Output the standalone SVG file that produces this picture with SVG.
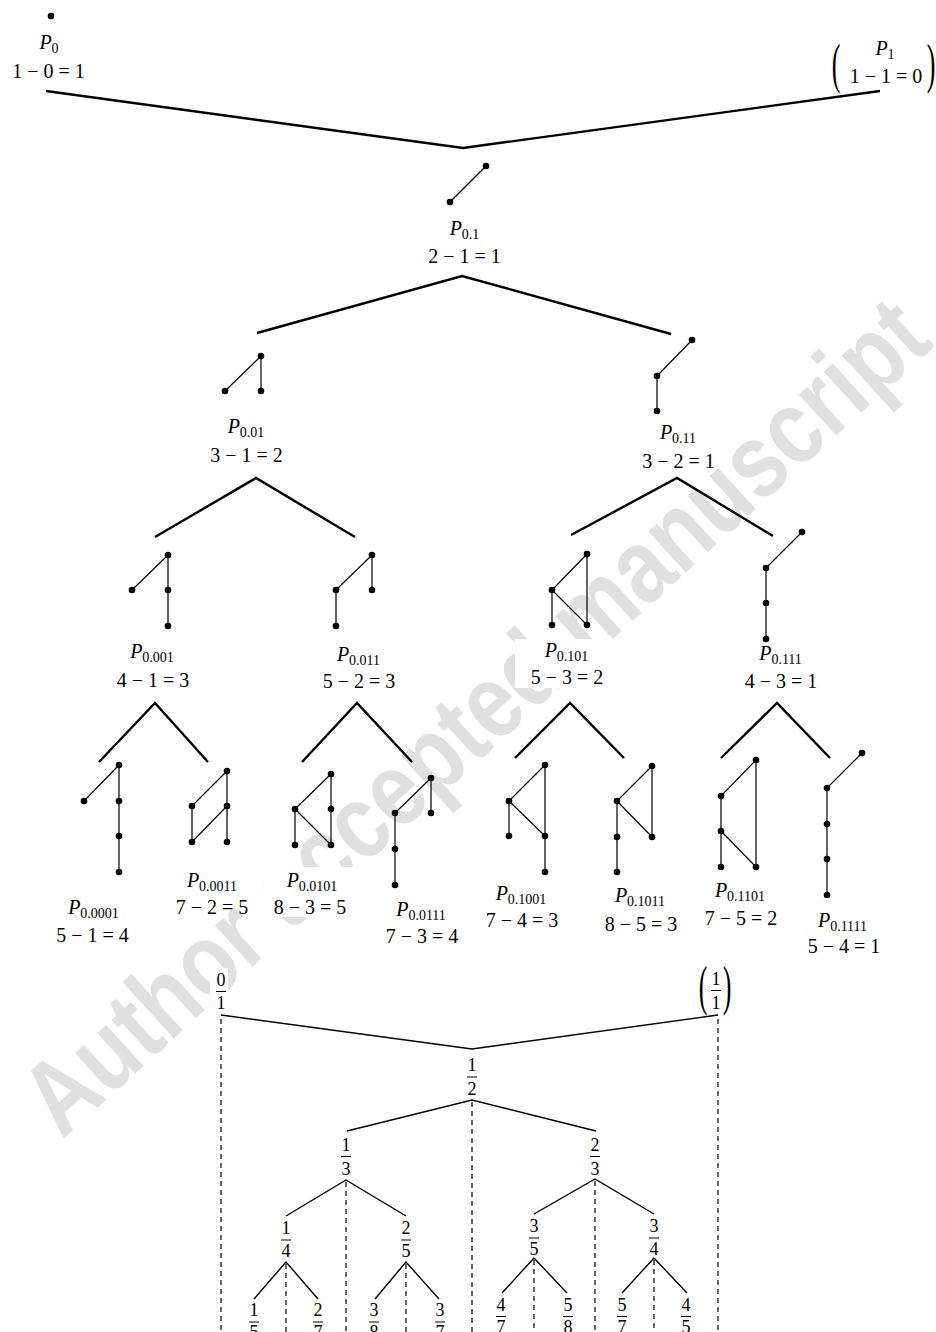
<svg xmlns="http://www.w3.org/2000/svg" width="936" height="1332" viewBox="0 0 936 1332">
<style>
.t{font-family:"Liberation Serif","Times New Roman",serif;font-size:20px;text-anchor:middle;fill:#000}
.P{font-style:italic}
.s{font-size:14px;font-style:normal}
.f{font-family:"Liberation Serif","Times New Roman",serif;font-size:18px;text-anchor:middle;fill:#000}
.e{stroke:#000;stroke-width:1.2;fill:none}
.v{stroke:#000;stroke-width:2.4;fill:none;stroke-linejoin:miter}
.w{stroke:#000;stroke-width:1.4;fill:none}
.dash{stroke:#000;stroke-width:1.2;stroke-dasharray:5 4;fill:none}
.bar{stroke:#000;stroke-width:1}
.bg{fill:#fff}
.wm{font-family:"Liberation Sans",Arial,sans-serif;font-weight:bold;font-size:105px;fill:#e0e0e0}
</style>
<rect width="936" height="1332" fill="#fff"/>
<g id="watermark">
<text class="wm" transform="translate(62,1140) rotate(-42.3)" textLength="1181" lengthAdjust="spacingAndGlyphs">Author accepted manuscript</text>
</g>
<g id="connectors">
<polyline class="v" points="46,91 463,148 880,91"/>
<polyline class="v" points="257,333 462,276 671,334"/>
<polyline class="v" points="155,537 256,478 355,537"/>
<polyline class="v" points="571,535 677,478 773,536"/>
<polyline class="v" points="99,762 155,703 208,762"/>
<polyline class="v" points="302,762 357,703 412,762"/>
<polyline class="v" points="515,758 570,703 624,758"/>
<polyline class="v" points="721,758 777,703 830,758"/>
</g>
<g id="P0">
<circle cx="51" cy="16" r="3.3"/>
<text class="t" x="49" y="49"><tspan class="P">P</tspan><tspan class="s" dy="3.5">0</tspan></text>
<text class="t" x="48.5" y="78">1 − 0 = 1</text>
</g>
<g id="P1">
<text class="t" x="885" y="55"><tspan class="P">P</tspan><tspan class="s" dy="3.5">1</tspan></text>
<text class="t" x="886" y="83">1 − 1 = 0</text>
<text class="t" style="font-size:26px" transform="translate(836,82) scale(1,2.1)">(</text>
<text class="t" style="font-size:26px" transform="translate(931,82) scale(1,2.1)">)</text>
</g>
<g id="P0.1">
<line class="e" x1="486" y1="166" x2="450" y2="202"/>
<circle cx="486" cy="166" r="3.3"/><circle cx="450" cy="202" r="3.3"/>
<text class="t" x="464.5" y="235"><tspan class="P">P</tspan><tspan class="s" dy="3.5">0.1</tspan></text>
<text class="t" x="464.5" y="263">2 − 1 = 1</text>
</g>
<g id="P0.01">
<path class="e" d="M261,356 L225,391 M261,356 L261,391"/>
<circle cx="261" cy="356" r="3.3"/><circle cx="225" cy="391" r="3.3"/><circle cx="261" cy="391" r="3.3"/>
<text class="t" x="246" y="433"><tspan class="P">P</tspan><tspan class="s" dy="3.5">0.01</tspan></text>
<text class="t" x="246.5" y="462">3 − 1 = 2</text>
</g>
<g id="P0.11">
<path class="e" d="M692,340 L657,376 L657,411"/>
<circle cx="692" cy="340" r="3.3"/><circle cx="657" cy="376" r="3.3"/><circle cx="657" cy="411" r="3.3"/>
<text class="t" x="678" y="439"><tspan class="P">P</tspan><tspan class="s" dy="3.5">0.11</tspan></text>
<text class="t" x="678.5" y="468">3 − 2 = 1</text>
</g>
<g id="P0.001">
<path class="e" d="M168,555 L132,590 M168,555 L168,626"/>
<circle cx="168" cy="555" r="3.3"/><circle cx="132" cy="590" r="3.3"/><circle cx="168" cy="590" r="3.3"/><circle cx="168" cy="626" r="3.3"/>
<text class="t" x="152" y="658"><tspan class="P">P</tspan><tspan class="s" dy="3.5">0.001</tspan></text>
<text class="t" x="153" y="687">4 − 1 = 3</text>
</g>
<g id="P0.011">
<path class="e" d="M372,555 L336,590 L336,626 M372,555 L372,590"/>
<circle cx="372" cy="555" r="3.3"/><circle cx="336" cy="590" r="3.3"/><circle cx="372" cy="590" r="3.3"/><circle cx="336" cy="626" r="3.3"/>
<text class="t" x="358.5" y="661"><tspan class="P">P</tspan><tspan class="s" dy="3.5">0.011</tspan></text>
<text class="t" x="359" y="688">5 − 2 = 3</text>
</g>
<g id="P0.101">
<rect class="bg" x="515" y="639" width="99" height="49"/>
<path class="e" d="M587,554 L552,590 L552,625 M587,554 L587,625 M552,590 L587,625"/>
<circle cx="587" cy="554" r="3.3"/><circle cx="552" cy="590" r="3.3"/><circle cx="552" cy="625" r="3.3"/><circle cx="587" cy="625" r="3.3"/>
<text class="t" x="566.5" y="657"><tspan class="P">P</tspan><tspan class="s" dy="3.5">0.101</tspan></text>
<text class="t" x="567" y="684">5 − 3 = 2</text>
</g>
<g id="P0.111">
<path class="e" d="M802,532 L766,568 L766,639"/>
<circle cx="802" cy="532" r="3.3"/><circle cx="766" cy="568" r="3.3"/><circle cx="766" cy="603" r="3.3"/><circle cx="766" cy="639" r="3.3"/>
<text class="t" x="780.5" y="660"><tspan class="P">P</tspan><tspan class="s" dy="3.5">0.111</tspan></text>
<text class="t" x="781" y="688">4 − 3 = 1</text>
</g>
<g id="P0.0001">
<path class="e" d="M119,765 L84,801 M119,765 L119,872"/>
<circle cx="119" cy="765" r="3.3"/><circle cx="84" cy="801" r="3.3"/><circle cx="119" cy="801" r="3.3"/><circle cx="119" cy="836" r="3.3"/><circle cx="119" cy="872" r="3.3"/>
<text class="t" x="93.5" y="914"><tspan class="P">P</tspan><tspan class="s" dy="3.5">0.0001</tspan></text>
<text class="t" x="92.5" y="942">5 − 1 = 4</text>
</g>
<g id="P0.0011">
<path class="e" d="M227,771 L192,806 L192,842 L227,806 M227,771 L227,842"/>
<circle cx="227" cy="771" r="3.3"/><circle cx="192" cy="806" r="3.3"/><circle cx="227" cy="806" r="3.3"/><circle cx="192" cy="842" r="3.3"/><circle cx="227" cy="842" r="3.3"/>
<text class="t" x="212" y="887"><tspan class="P">P</tspan><tspan class="s" dy="3.5">0.0011</tspan></text>
<text class="t" x="212" y="914">7 − 2 = 5</text>
</g>
<g id="P0.0101">
<rect class="bg" x="264" y="867" width="94" height="50"/>
<path class="e" d="M331,774 L295,809 L295,845 M331,774 L331,845 M295,809 L331,845"/>
<circle cx="331" cy="774" r="3.3"/><circle cx="295" cy="809" r="3.3"/><circle cx="331" cy="809" r="3.3"/><circle cx="295" cy="845" r="3.3"/><circle cx="331" cy="845" r="3.3"/>
<text class="t" x="312" y="887"><tspan class="P">P</tspan><tspan class="s" dy="3.5">0.0101</tspan></text>
<text class="t" x="310" y="914">8 − 3 = 5</text>
</g>
<g id="P0.0111">
<path class="e" d="M431,778 L395,813 L395,885 M431,778 L431,813"/>
<circle cx="431" cy="778" r="3.3"/><circle cx="395" cy="813" r="3.3"/><circle cx="431" cy="813" r="3.3"/><circle cx="395" cy="849" r="3.3"/><circle cx="395" cy="885" r="3.3"/>
<text class="t" x="421" y="916"><tspan class="P">P</tspan><tspan class="s" dy="3.5">0.0111</tspan></text>
<text class="t" x="422" y="943">7 − 3 = 4</text>
</g>
<g id="P0.1001">
<path class="e" d="M545,765 L509,801 L509,836 M545,765 L545,872 M509,801 L545,836"/>
<circle cx="545" cy="765" r="3.3"/><circle cx="509" cy="801" r="3.3"/><circle cx="545" cy="836" r="3.3"/><circle cx="509" cy="836" r="3.3"/><circle cx="545" cy="872" r="3.3"/>
<text class="t" x="521" y="900"><tspan class="P">P</tspan><tspan class="s" dy="3.5">0.1001</tspan></text>
<text class="t" x="522" y="927">7 − 4 = 3</text>
</g>
<g id="P0.1011">
<path class="e" d="M652,766 L617,801 L617,872 M652,766 L652,837 M617,801 L652,837"/>
<circle cx="652" cy="766" r="3.3"/><circle cx="617" cy="801" r="3.3"/><circle cx="652" cy="837" r="3.3"/><circle cx="617" cy="837" r="3.3"/><circle cx="617" cy="872" r="3.3"/>
<text class="t" x="640" y="902"><tspan class="P">P</tspan><tspan class="s" dy="3.5">0.1011</tspan></text>
<text class="t" x="641" y="931">8 − 5 = 3</text>
</g>
<g id="P0.1101">
<path class="e" d="M756,760 L721,796 L721,867 M756,760 L756,867 M721,831 L756,867"/>
<circle cx="756" cy="760" r="3.3"/><circle cx="721" cy="796" r="3.3"/><circle cx="721" cy="831" r="3.3"/><circle cx="721" cy="867" r="3.3"/><circle cx="756" cy="867" r="3.3"/>
<text class="t" x="740" y="897"><tspan class="P">P</tspan><tspan class="s" dy="3.5">0.1101</tspan></text>
<text class="t" x="741" y="925">7 − 5 = 2</text>
</g>
<g id="P0.1111">
<path class="e" d="M862,753 L827,788 L827,895"/>
<circle cx="862" cy="753" r="3.3"/><circle cx="827" cy="788" r="3.3"/><circle cx="827" cy="824" r="3.3"/><circle cx="827" cy="859" r="3.3"/><circle cx="827" cy="895" r="3.3"/>
<text class="t" x="842.5" y="927"><tspan class="P">P</tspan><tspan class="s" dy="3.5">0.1111</tspan></text>
<text class="t" x="844" y="953">5 − 4 = 1</text>
</g>
<g id="fraction-connectors">
<polyline class="w" points="221,1015 472,1049 718,1015"/>
<polyline class="w" points="347,1131 472,1100 596,1131"/>
<polyline class="w" points="286,1216 346,1180 406,1216"/>
<polyline class="w" points="534,1214 595,1179 654,1214"/>
<polyline class="w" points="254,1299 286,1262 318,1299"/>
<polyline class="w" points="375,1299 406,1262 439,1299"/>
<polyline class="w" points="502,1293 534,1258 567,1293"/>
<polyline class="w" points="622,1293 654,1258 687,1293"/>
<line class="dash" x1="221" y1="1019" x2="221" y2="1332"/>
<line class="dash" x1="718" y1="1019" x2="718" y2="1332"/>
<line class="dash" x1="472" y1="1102" x2="472" y2="1332"/>
<line class="dash" x1="346" y1="1182" x2="346" y2="1332"/>
<line class="dash" x1="595" y1="1181" x2="595" y2="1332"/>
<line class="dash" x1="286" y1="1264" x2="286" y2="1332"/>
<line class="dash" x1="406" y1="1264" x2="406" y2="1332"/>
<line class="dash" x1="534" y1="1260" x2="534" y2="1332"/>
<line class="dash" x1="654" y1="1260" x2="654" y2="1332"/>
</g>
<g id="f0_1"><rect class="bg" x="210" y="968" width="18" height="44"/><text class="f" x="221" y="986">0</text><line class="bar" x1="216" y1="991.5" x2="226" y2="991.5"/><text class="f" x="221" y="1008.5">1</text></g>
<g id="f1_1"><text class="f" x="716" y="985">1</text><line class="bar" x1="711" y1="990.5" x2="721" y2="990.5"/><text class="f" x="716" y="1008.5">1</text>
<text class="t" style="font-size:26px" transform="translate(703,1004) scale(1,2.1)">(</text>
<text class="t" style="font-size:26px" transform="translate(727,1004) scale(1,2.1)">)</text></g>
<g id="f1_2"><text class="f" x="472" y="1071">1</text><line class="bar" x1="467" y1="1077" x2="477" y2="1077"/><text class="f" x="472" y="1095">2</text></g>
<g id="f1_3"><text class="f" x="346" y="1151">1</text><line class="bar" x1="341" y1="1156.5" x2="351" y2="1156.5"/><text class="f" x="346" y="1175">3</text></g>
<g id="f2_3"><text class="f" x="595" y="1151">2</text><line class="bar" x1="590" y1="1156.5" x2="600" y2="1156.5"/><text class="f" x="595" y="1175">3</text></g>
<g id="f1_4"><text class="f" x="286" y="1234">1</text><line class="bar" x1="281" y1="1240" x2="291" y2="1240"/><text class="f" x="286" y="1257">4</text></g>
<g id="f2_5"><text class="f" x="406" y="1234">2</text><line class="bar" x1="401" y1="1240" x2="411" y2="1240"/><text class="f" x="406" y="1257">5</text></g>
<g id="f3_5"><text class="f" x="534" y="1232">3</text><line class="bar" x1="529" y1="1238" x2="539" y2="1238"/><text class="f" x="534" y="1255">5</text></g>
<g id="f3_4"><text class="f" x="654" y="1232">3</text><line class="bar" x1="649" y1="1238" x2="659" y2="1238"/><text class="f" x="654" y="1255">4</text></g>
<g id="f1_5"><text class="f" x="254" y="1316">1</text><line class="bar" x1="249" y1="1322" x2="259" y2="1322"/><text class="f" x="254" y="1338">5</text></g>
<g id="f2_7"><text class="f" x="318" y="1316">2</text><line class="bar" x1="313" y1="1322" x2="323" y2="1322"/><text class="f" x="318" y="1338">7</text></g>
<g id="f3_8"><text class="f" x="374" y="1316">3</text><line class="bar" x1="369" y1="1322" x2="379" y2="1322"/><text class="f" x="374" y="1338">8</text></g>
<g id="f3_7"><text class="f" x="440" y="1316">3</text><line class="bar" x1="435" y1="1322" x2="445" y2="1322"/><text class="f" x="440" y="1338">7</text></g>
<g id="f4_7"><text class="f" x="501" y="1311">4</text><line class="bar" x1="496" y1="1316.5" x2="506" y2="1316.5"/><text class="f" x="501" y="1333">7</text></g>
<g id="f5_8"><text class="f" x="568" y="1311">5</text><line class="bar" x1="563" y1="1316.5" x2="573" y2="1316.5"/><text class="f" x="568" y="1333">8</text></g>
<g id="f5_7"><text class="f" x="622" y="1311">5</text><line class="bar" x1="617" y1="1316.5" x2="627" y2="1316.5"/><text class="f" x="622" y="1333">7</text></g>
<g id="f4_5"><text class="f" x="686" y="1311">4</text><line class="bar" x1="681" y1="1316.5" x2="691" y2="1316.5"/><text class="f" x="686" y="1333">5</text></g>
</svg>
